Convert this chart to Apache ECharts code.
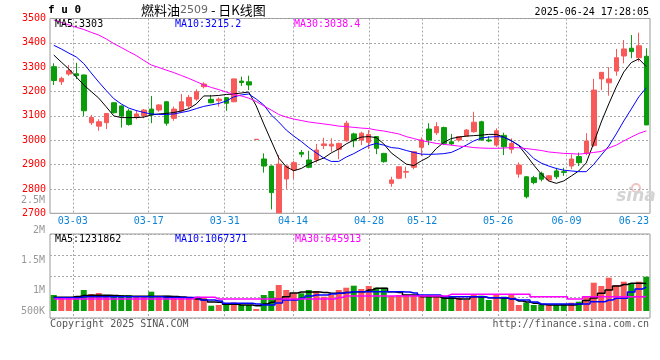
<!DOCTYPE html>
<html><head><meta charset="utf-8">
<script src="https://cdn.jsdelivr.net/npm/echarts@6/dist/echarts.min.js"></script>
<style>html,body{margin:0;padding:0;background:#fff}#c{width:660px;height:360px}</style>
</head><body><div id="c"></div>
<script>
const dates = ['02-26','02-27','02-28',
 '03-03','03-04','03-05','03-06','03-07','03-10','03-11','03-12','03-13','03-14','03-17','03-18','03-19','03-20','03-21','03-24','03-25','03-26','03-27','03-28','03-31',
 '04-01','04-02','04-03','04-07','04-08','04-09','04-10','04-11','04-14','04-15','04-16','04-17','04-18','04-21','04-22','04-23','04-24','04-25','04-28','04-29','04-30',
 '05-06','05-07','05-08','05-09','05-12','05-13','05-14','05-15','05-16','05-19','05-20','05-21','05-22','05-23','05-26','05-27','05-28','05-29','05-30',
 '06-03','06-04','06-05','06-06','06-09','06-10','06-11','06-12','06-13','06-16','06-17','06-18','06-19','06-20','06-23','06-24'];
const opens = [3302,3240,3272,3273,3268,3072,3058,3072,3154,3141,3120,3094,3101,3128,3124,3158,3090,3120,3141,3169,
 3220,3168,3162,3175,3158,3243,3240,3003,2923,2894,2702,2841,2878,2950,2919,2919,2978,2976,2963,2998,
 3026,3001,2992,3015,2946,2823,2844,2869,2889,2971,3046,3031,3052,2994,3001,3017,3035,3076,3001,2980,
 3020,2963,2861,2850,2846,2864,2837,2874,2871,2894,2933,2946,2978,3252,3236,3284,3346,3378,3339,3345];
const closes = [3245,3254,3286,3265,3121,3093,3076,3110,3113,3100,3065,3108,3124,3104,3145,3070,3128,3158,3176,3199,
 3231,3154,3169,3152,3252,3237,3227,3004,2894,2785,2902,2894,2908,2943,2889,2960,2985,2984,2987,3070,
 2998,3029,3024,2967,2912,2837,2891,2872,2953,3001,3001,3056,2987,2985,3015,3042,3074,3001,2997,3039,
 2973,2987,2898,2768,2826,2840,2854,2850,2868,2923,2908,2997,3206,3279,3252,3339,3375,3364,3388,3063];
const lows = [3227,3227,3265,3251,3100,3063,3039,3046,3110,3052,3060,3086,3090,3070,3117,3060,3080,3113,3131,3162,
 3213,3152,3138,3121,3156,3223,3206,3003,2867,2716,2700,2800,2841,2930,2885,2908,2964,2953,2922,2994,
 2971,2980,2964,2943,2908,2809,2840,2844,2881,2935,2980,3022,2980,2980,2994,3015,3031,2998,2992,2973,
 2939,2946,2846,2761,2819,2831,2831,2841,2854,2881,2894,2939,2973,3206,3183,3265,3316,3337,3323,3062];
const highs = [3316,3261,3309,3318,3270,3104,3086,3112,3156,3143,3128,3124,3128,3182,3149,3161,3138,3190,3186,3209,
 3238,3186,3176,3177,3253,3261,3265,3004,2946,2896,2939,2896,2915,2960,2957,2985,3010,3008,2990,3080,
 3031,3035,3042,3017,2948,2850,2893,2891,2954,3012,3070,3074,3056,3026,3017,3046,3117,3080,3017,3049,
 3031,3008,2909,2852,2854,2871,2857,2887,2887,2942,2949,3029,3252,3280,3300,3375,3412,3432,3442,3378];
const ma5 = [3350,3321,3293,3260,3227,3200,3173,3137,3100,3093,3093,3093,3095,3104,3108,3110,3114,3120,3130,3149,
 3182,3182,3184,3188,3190,3194,3198,3141,3067,2997,2927,2891,2875,2884,2902,2915,2927,2948,2964,2985,
 3001,3013,3015,3011,2985,2948,2925,2902,2896,2915,2931,2966,2991,3007,3013,3017,3019,3021,3024,3024,
 3013,2999,2978,2939,2898,2861,2833,2823,2833,2853,2874,2907,2989,3075,3149,3219,3280,3319,3334,3303];
const ma10 = [3390,3375,3358,3342,3315,3276,3239,3204,3171,3149,3132,3122,3114,3108,3106,3106,3108,3114,3120,3130,
 3139,3145,3151,3161,3178,3186,3190,3169,3145,3104,3075,3042,3017,2995,2970,2948,2927,2913,2913,2931,
 2945,2962,2978,2987,2980,2970,2967,2958,2950,2943,2942,2943,2945,2950,2964,2980,2997,3009,3013,3015,
 3013,2997,2980,2956,2925,2906,2894,2884,2877,2874,2871,2871,2901,2939,2976,3026,3079,3128,3178,3215.2];
const ma30 = [3494,3484,3474,3464,3455,3443,3432,3416,3397,3381,3364,3348,3328,3309,3299,3288,3278,3266,3254,3241,
 3227,3217,3208,3198,3188,3182,3173,3159,3141,3124,3106,3095,3087,3081,3075,3071,3067,3063,3058,3056,
 3053,3050,3048,3042,3038,3032,3026,3015,3007,2999,2993,2987,2983,2980,2976,2974,2970,2968,2967,2967,
 2968,2970,2969,2966,2962,2958,2952,2949,2946,2945,2943,2946,2950,2954,2968,2980,2997,3013,3028,3038.4];
const volumes = [715000,595000,595000,640000,939000,760000,805000,684000,715000,715000,715000,640000,640000,863000,640000,684000,595000,595000,640000,595000,
 595000,237000,268000,344000,389000,268000,268000,89000,715000,894000,1162000,939000,791000,791000,939000,894000,640000,715000,939000,1042000,
 1131000,983000,1118000,1042000,1042000,671000,715000,715000,671000,640000,715000,640000,640000,640000,595000,492000,715000,684000,492000,715000,
 640000,715000,268000,371000,268000,268000,268000,268000,313000,371000,416000,640000,1265000,1118000,1489000,1162000,1310000,1238000,1310000,1533000];
const volMa5 = [612000,612000,612000,648000,693000,702000,702000,702000,693000,671000,657000,657000,657000,657000,657000,657000,648000,626000,581000,536000,
 492000,402000,389000,299000,299000,268000,268000,237000,313000,389000,536000,639000,805000,849000,849000,849000,827000,791000,791000,827000,
 863000,863000,939000,1015000,1015000,863000,827000,715000,715000,639000,639000,639000,568000,568000,536000,536000,639000,626000,595000,595000,
 568000,536000,447000,402000,344000,291000,268000,268000,268000,268000,313000,469000,581000,791000,939000,1118000,1185000,1238000,1238000,1231862];
const volMa10 = [595000,595000,595000,595000,639000,639000,639000,639000,639000,639000,639000,639000,639000,639000,639000,603000,603000,603000,603000,603000,
 492000,492000,447000,344000,344000,344000,344000,313000,268000,268000,358000,492000,492000,581000,671000,715000,715000,760000,791000,827000,
 863000,863000,863000,863000,863000,863000,863000,849000,805000,715000,715000,715000,639000,639000,639000,639000,639000,639000,595000,595000,
 595000,536000,492000,492000,402000,313000,313000,313000,313000,313000,313000,313000,416000,416000,492000,568000,568000,849000,983000,1067371];
const volMa30 = [536000,536000,536000,536000,536000,536000,536000,536000,536000,536000,536000,536000,536000,536000,536000,536000,536000,536000,536000,612000,
 612000,612000,536000,536000,536000,536000,536000,536000,536000,536000,536000,536000,536000,536000,536000,536000,536000,536000,603000,671000,
 671000,671000,671000,671000,671000,671000,671000,671000,671000,671000,671000,671000,671000,746000,746000,746000,746000,746000,746000,746000,
 746000,746000,746000,746000,639000,639000,639000,639000,639000,536000,536000,639000,639000,639000,639000,639000,639000,639000,639000,645913];
const priceMin = 2700, priceMax = 3500, priceStep = 100;
const volTickValues = [500000,1000000,1500000,2000000,2500000];
const volTickLabels = ['500K','1M','1.5M','2M','2.5M'];
const dateLabelIdx = [3,13,23,32,42,49,59,68,78];
const dateLineIdx = [3,13,23,32,42,49,59,68];
const titleName = '燃料油', titleCode = '2509', titleKind = '日K线图';
const symbolText = 'f u 0';
const stamp = '2025-06-24 17:28:05';

const RED = '#f85a5a', GREEN = '#0a9c0a';
const MONO = 'DejaVu Sans Mono';
const dotted = {color:'#aaa', type:[2,2], width:1};
const last = a => a[a.length-1];

const chart = echarts.init(document.getElementById('c'));
chart.setOption({
  animation:false,
  backgroundColor:'#fff',
  grid:[
    {left:50, right:10, top:18.5, height:194.8, show:true, borderColor:'#999', borderWidth:1},
    {left:50, right:10, top:234, height:84, show:true, borderColor:'#999', borderWidth:1},
    {left:50, right:10, top:200, height:120, show:false}
  ],
  xAxis:[
    {type:'category', gridIndex:0, data:dates, boundaryGap:true, position:'top', show:false},
    {type:'category', gridIndex:0, data:dates, boundaryGap:false, position:'bottom',
      axisLine:{show:false}, axisTick:{show:false},
      axisLabel:{interval:(i)=>dateLabelIdx.includes(i), color:'#0d84d6', fontFamily:MONO, fontSize:10, margin:3,
        formatter:(v,i)=> i===dateLabelIdx[dateLabelIdx.length-1] ? '{e|'+v+'}' : v,
        rich:{e:{padding:[0,17,0,0], color:'#0d84d6', fontFamily:MONO, fontSize:10}}},
      splitLine:{show:true, interval:(i)=>dateLineIdx.includes(i), lineStyle:dotted}},
    {type:'category', gridIndex:1, data:dates, boundaryGap:true, position:'top', show:false},
    {type:'category', gridIndex:1, data:dates, boundaryGap:false, position:'bottom',
      axisLine:{show:false}, axisTick:{show:false}, axisLabel:{show:false},
      splitLine:{show:true, interval:(i)=>dateLineIdx.includes(i), lineStyle:dotted}},
    {type:'value', gridIndex:2, show:false}
  ],
  yAxis:[
    {type:'value', gridIndex:0, min:priceMin, max:priceMax, interval:priceStep, position:'left',
      axisLine:{show:false}, axisTick:{show:false},
      axisLabel:{color:'#ff0000', fontFamily:MONO, fontSize:10, margin:4, padding:[0,0,5,0], formatter:(v)=>String(v)},
      splitLine:{show:true, lineStyle:dotted}},
    {type:'value', gridIndex:1, min:-313000, max:3442000, position:'right', show:false},
    {type:'value', gridIndex:1, min:0, max:4, interval:1, position:'left',
      axisLine:{show:false}, axisTick:{show:false}, axisLabel:{show:false},
      splitLine:{show:true, lineStyle:dotted}},
    {type:'value', gridIndex:2, min:volTickValues[0], max:last(volTickValues), interval:volTickValues[1]-volTickValues[0], position:'left',
      axisLine:{show:false}, axisTick:{show:false}, splitLine:{show:false},
      axisLabel:{color:'#999', fontFamily:MONO, fontSize:10, margin:5,
        formatter:(v)=>{const k=volTickValues.indexOf(v); const t=volTickLabels[k]; return k===0 ? '{lo|'+t+'}' : t;},
        rich:{lo:{padding:[0,0,18,0], color:'#999', fontFamily:MONO, fontSize:10}}}}
  ],
  series:[
    {type:'candlestick', xAxisIndex:0, yAxisIndex:0, barWidth:5,
      data:dates.map((d,i)=>[opens[i],closes[i],lows[i],highs[i]]),
      itemStyle:{color:RED, color0:GREEN, borderColor:RED, borderColor0:GREEN, borderWidth:1}},
    {type:'line', xAxisIndex:0, yAxisIndex:0, data:ma5, showSymbol:false, lineStyle:{color:'#000', width:1}, itemStyle:{color:'#000'}, z:5},
    {type:'line', xAxisIndex:0, yAxisIndex:0, data:ma10, showSymbol:false, lineStyle:{color:'#0000ff', width:1}, itemStyle:{color:'#0000ff'}, z:5},
    {type:'line', xAxisIndex:0, yAxisIndex:0, data:ma30, showSymbol:false, lineStyle:{color:'#ff00ff', width:1}, itemStyle:{color:'#ff00ff'}, z:5},
    {type:'bar', xAxisIndex:2, yAxisIndex:1, data:volumes, barWidth:6,
      itemStyle:{color:(p)=> closes[p.dataIndex] >= opens[p.dataIndex] ? RED : GREEN}},
    {type:'line', xAxisIndex:2, yAxisIndex:1, data:volMa5, step:'middle', showSymbol:false, lineStyle:{color:'#000', width:1.5}, z:5},
    {type:'line', xAxisIndex:2, yAxisIndex:1, data:volMa10, step:'middle', showSymbol:false, lineStyle:{color:'#0000ff', width:1.5}, z:5},
    {type:'line', xAxisIndex:2, yAxisIndex:1, data:volMa30, step:'middle', showSymbol:false, lineStyle:{color:'#ff00ff', width:1.5}, z:5}
  ],
  graphic:[
    {type:'text', x:48, y:10, style:{text:symbolText, verticalAlign:'middle', font:'bold 11px "DejaVu Sans Mono"', fill:'#000'}},
    {type:'text', x:141, y:10, style:{text:'{a|'+titleName+'}{b|'+titleCode+'}{a| - '+titleKind+'}', verticalAlign:'middle',
      rich:{a:{fontFamily:'Noto Sans CJK SC', fontSize:13, fill:'#000'}, b:{fontFamily:'DejaVu Sans', fontSize:11, fill:'#666'}}}},
    {type:'text', x:649, y:12, style:{text:stamp, align:'right', verticalAlign:'middle', font:'10px "DejaVu Sans Mono"', fill:'#000'}},
    {type:'text', x:55, y:24, z:10, style:{text:'MA5:'+last(ma5), verticalAlign:'middle', font:'10px "DejaVu Sans Mono"', fill:'#000'}},
    {type:'text', x:175, y:24, z:10, style:{text:'MA10:'+last(ma10), verticalAlign:'middle', font:'10px "DejaVu Sans Mono"', fill:'#0000ff'}},
    {type:'text', x:294, y:24, z:10, style:{text:'MA30:'+last(ma30), verticalAlign:'middle', font:'10px "DejaVu Sans Mono"', fill:'#ff00ff'}},
    {type:'text', x:55, y:239, z:10, style:{text:'MA5:'+last(volMa5), verticalAlign:'middle', font:'10px "DejaVu Sans Mono"', fill:'#000'}},
    {type:'text', x:175, y:239, z:10, style:{text:'MA10:'+last(volMa10), verticalAlign:'middle', font:'10px "DejaVu Sans Mono"', fill:'#0000ff'}},
    {type:'text', x:295, y:239, z:10, style:{text:'MA30:'+last(volMa30), verticalAlign:'middle', font:'10px "DejaVu Sans Mono"', fill:'#ff00ff'}},
    {type:'text', x:50, y:324, style:{text:'Copyright 2025 SINA.COM', verticalAlign:'middle', font:'10px "DejaVu Sans Mono"', fill:'#555'}},
    {type:'text', x:649, y:324, style:{text:'http://finance.sina.com.cn', align:'right', verticalAlign:'middle', font:'10px "DejaVu Sans Mono"', fill:'#555'}},
    {type:'circle', shape:{cx:636, cy:188, r:4}, style:{fill:'none', stroke:'#f0c4c4', lineWidth:2}},
    {type:'text', x:636, y:197, style:{text:'sina', align:'center', verticalAlign:'middle', font:'italic bold 17px "DejaVu Sans"', fill:'#d4d4d4'}}
  ]
});
</script>
</body></html>
